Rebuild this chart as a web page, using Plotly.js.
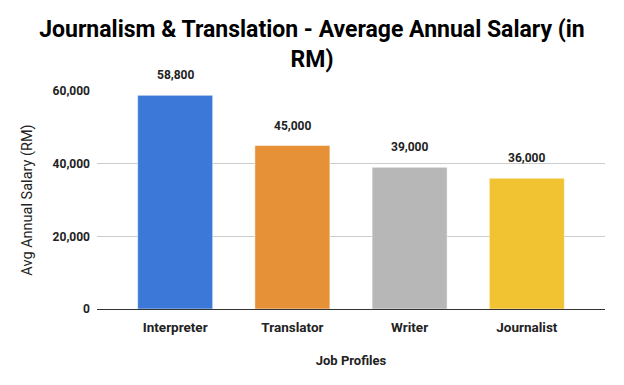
<!DOCTYPE html>
<html>
<head>
<meta charset="utf-8">
<script src="https://cdn.plot.ly/plotly-3.0.1.min.js"></script>
<style>html,body{margin:0;padding:0;background:#fff;}#chart{width:624px;height:385px;}</style>
</head>
<body>
<div id="chart"></div>
<script>
const categories = ["Interpreter", "Translator", "Writer", "Journalist"];
const salaries = [58800, 45000, 39000, 36000];
const barColors = ["#3c78d8", "#e69138", "#b7b7b7", "#f1c232"];
const valueLabels = ["58,800", "45,000", "39,000", "36,000"];
const yTickVals = [0, 20000, 40000, 60000];
const yTickText = ["0", "20,000", "40,000", "60,000"];

const fontFam = "Roboto, Arial, sans-serif";

const trace = {
  type: "bar",
  x: categories,
  y: salaries,
  marker: {color: barColors, line: {color: "rgba(255,255,255,0.5)", width: 1}},
  hoverinfo: "none"
};

const annotations = categories.map((c, i) => ({
  x: c, y: salaries[i], xref: "x", yref: "y",
  text: "<b>" + valueLabels[i] + "</b>",
  showarrow: false, yanchor: "bottom", yshift: 11,
  font: {family: fontFam, size: 12, color: "#222"}
}));

const layout = {
  width: 624, height: 385,
  margin: {l: 97, r: 19, t: 91, b: 76},
  paper_bgcolor: "#fff", plot_bgcolor: "#fff",
  title: {
    text: "<b>Journalism & Translation - Average Annual Salary (in<br>RM)</b>",
    font: {family: fontFam, size: 23, color: "#000"},
    x: 0.5, xanchor: "center", yref: "container", y: 0.903, yanchor: "bottom"
  },
  bargap: 0.36,
  showlegend: false,
  xaxis: {
    range: [-0.667, 3.667],
    tickvals: categories,
    ticktext: categories.map(c => "<b>" + c + "</b>"),
    tickfont: {family: fontFam, size: 13.5, color: "#222"},
    showgrid: false, showline: false, ticks: "", ticklabelstandoff: 8,
    title: {text: "<b>Job Profiles</b>", font: {family: fontFam, size: 13, color: "#222"}, standoff: 22}
  },
  yaxis: {
    range: [0, 60000],
    tickvals: yTickVals,
    ticktext: yTickText.map(t => "<b>" + t + "</b>"),
    tickfont: {family: fontFam, size: 12, color: "#222"},
    showgrid: true, gridcolor: "#cccccc", gridwidth: 1,
    zeroline: true, zerolinecolor: "#333333", zerolinewidth: 1,
    ticks: "", ticklabelstandoff: 6,
    title: {text: "Avg Annual Salary (RM)", font: {family: fontFam, size: 14.5, color: "#222"}, standoff: 16}
  },
  annotations: annotations
};

Plotly.newPlot("chart", [trace], layout, {displayModeBar: false, staticPlot: true});
</script>
</body>
</html>
